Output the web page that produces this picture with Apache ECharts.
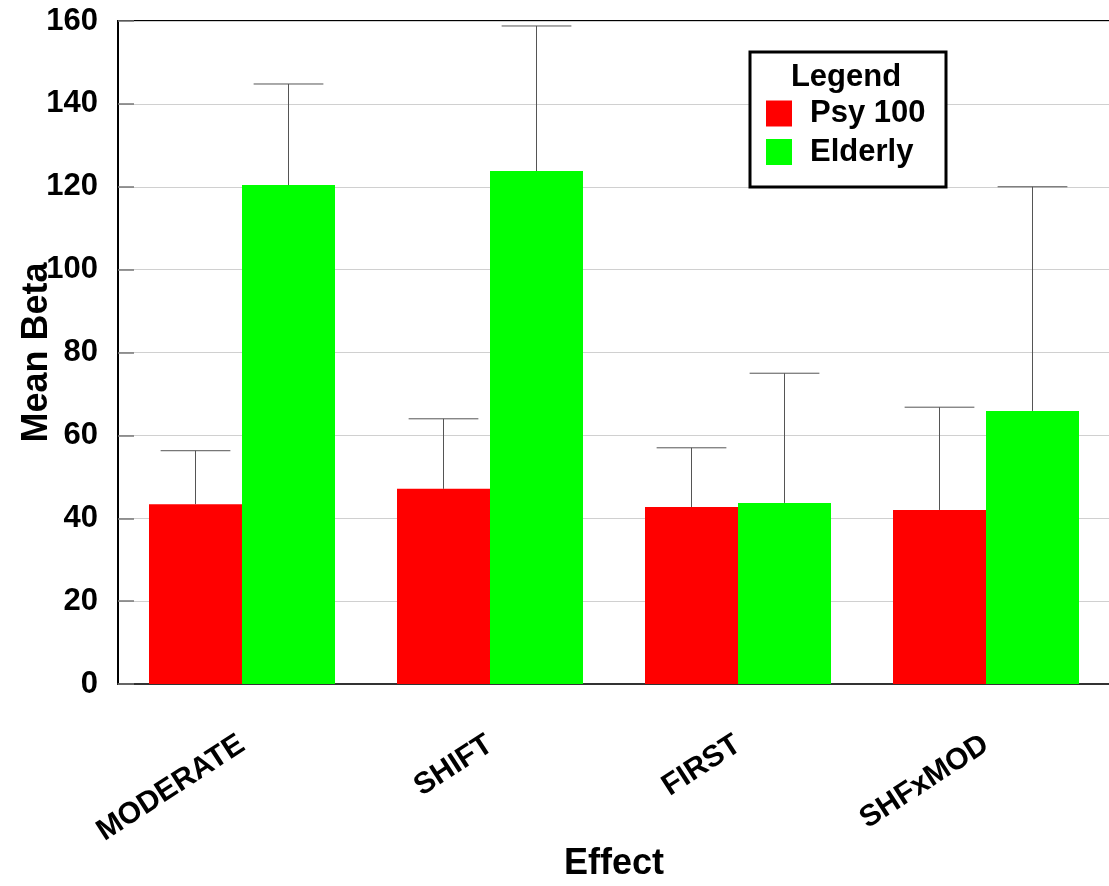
<!DOCTYPE html>
<html><head><meta charset="utf-8">
<script src="https://cdn.jsdelivr.net/npm/echarts@6/dist/echarts.min.js"></script>
<style>html,body{margin:0;padding:0;background:#fff}#c{width:1109px;height:886px}</style>
</head><body><div id="c"></div>
<script>
const categories = ['MODERATE', 'SHIFT', 'FIRST', 'SHFxMOD'];
const seriesNames = ['Psy 100', 'Elderly'];
const psyMean = [43.4, 47.1, 42.7, 42.0];
const psyUpper = [56.3, 64.0, 57.0, 66.8];
const elderlyMean = [120.4, 123.8, 43.7, 65.9];
const elderlyUpper = [144.8, 158.8, 75.0, 120.0];
const yTicks = [0, 20, 40, 60, 80, 100, 120, 140, 160];

const FONT = '"Liberation Sans", Arial, sans-serif';
const chart = echarts.init(document.getElementById('c'), null, {renderer: 'canvas'});
const CAT_GAP = 0.25;

function errorSeries(upper, means, side) {
  return {
    type: 'custom',
    silent: true,
    z: 5,
    data: upper.map((u, i) => [i, means[i], u]),
    renderItem: function (params, api) {
      const band = api.size([1, 0])[0];
      const bw = band * (1 - CAT_GAP) / 2;
      const base = api.coord([api.value(0), api.value(1)]);
      const top = api.coord([api.value(0), api.value(2)]);
      const x = base[0] + side * bw / 2;
      const cap = bw * 0.75;
      const st = {stroke: '#555', lineWidth: 1};
      return {type: 'group', children: [
        {type: 'line', shape: {x1: x, y1: base[1], x2: x, y2: top[1]}, style: st},
        {type: 'line', shape: {x1: x - cap / 2, y1: top[1], x2: x + cap / 2, y2: top[1]}, style: st}
      ]};
    }
  };
}

chart.setOption({
  animation: false,
  textStyle: {fontFamily: FONT},
  grid: {left: 118, top: 21, right: -1, bottom: 202, containLabel: false, outerBoundsMode: 'none',
    show: true, borderColor: '#000', borderWidth: 2, backgroundColor: 'transparent'},
  legend: {
    orient: 'vertical', left: 766, top: 98, z: 20, padding: 0,
    itemWidth: 26, itemHeight: 26, itemGap: 7.5,
    icon: 'rect',
    textStyle: {fontFamily: FONT, fontWeight: 'bold', fontSize: 31, lineHeight: 26, color: '#000', padding: [0, 0, 0, 13]},
    data: seriesNames,
    selectedMode: false
  },
  graphic: [
    {type: 'rect', shape: {x: 750, y: 52, width: 196, height: 135}, style: {fill: '#fff', stroke: '#000', lineWidth: 3}, z: 10},
    {type: 'text', x: 846, y: 77, style: {text: 'Legend', font: 'bold 31px ' + FONT, fill: '#000', textAlign: 'center', textVerticalAlign: 'middle'}, z: 11}
  ],
  xAxis: {
    type: 'category',
    data: categories,
    name: 'Effect',
    nameLocation: 'middle',
    nameGap: 162,
    nameMoveOverlap: false,
    nameTextStyle: {fontFamily: FONT, fontWeight: 'bold', fontSize: 36, color: '#000'},
    axisLine: {lineStyle: {color: '#333', width: 2}},
    axisTick: {inside: true, length: 14, lineStyle: {color: '#555', width: 1}},
    axisLabel: {rotate: 33, margin: 58, fontFamily: FONT, fontWeight: 'bold', fontSize: 30, color: '#000'}
  },
  yAxis: {
    type: 'value',
    min: 0, max: 160, interval: 20,
    name: 'Mean Beta',
    nameLocation: 'middle',
    nameGap: 63,
    nameMoveOverlap: false,
    nameRotate: 90,
    nameTextStyle: {fontFamily: FONT, fontWeight: 'bold', fontSize: 36, color: '#000'},
    axisLine: {show: true, lineStyle: {color: '#000', width: 2}},
    axisTick: {show: true, inside: true, length: 16, lineStyle: {color: '#777', width: 1.5}},
    axisLabel: {margin: 20, fontFamily: FONT, fontWeight: 'bold', fontSize: 31, color: '#000',
      formatter: v => yTicks.includes(v) ? String(v) : ''},
    splitLine: {lineStyle: {color: '#d0d0d0', width: 1}}
  },
  series: [
    {name: seriesNames[0], type: 'bar', data: psyMean, barGap: '0%', barCategoryGap: (CAT_GAP * 100) + '%', itemStyle: {color: '#ff0000'}},
    {name: seriesNames[1], type: 'bar', data: elderlyMean, barGap: '0%', barCategoryGap: (CAT_GAP * 100) + '%', itemStyle: {color: '#00ff00'}},
    errorSeries(psyUpper, psyMean, -1),
    errorSeries(elderlyUpper, elderlyMean, 1)
  ]
});
</script>
</body></html>
